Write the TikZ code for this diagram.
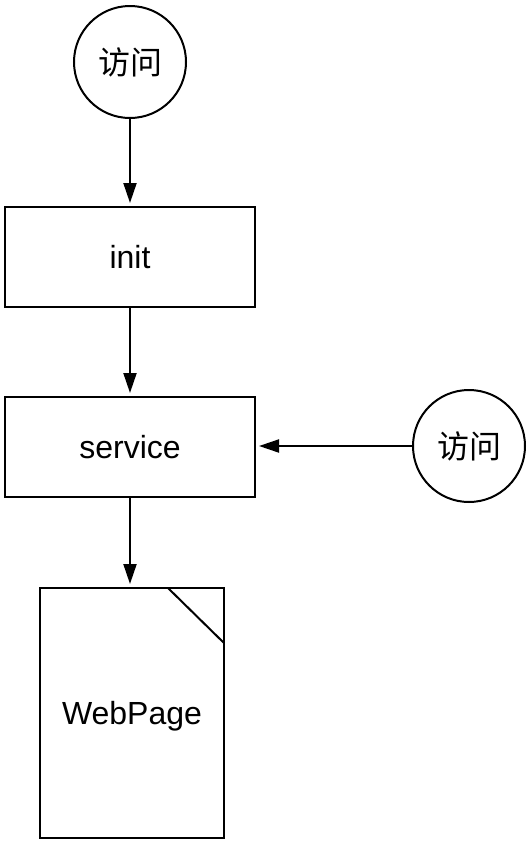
\documentclass[tikz,border=0pt]{standalone}
\usepackage{fontspec}
\setmainfont{Liberation Sans}
\newfontfamily\cjk{Noto Sans CJK SC}
\usetikzlibrary{arrows.meta}
\begin{document}
\begin{tikzpicture}[x=1pt,y=-1pt,
  every node/.style={font=\fontsize{32}{36}\selectfont},
  outl/.style={draw=black,line width=2pt},
  circ/.style={outl,circle,minimum size=112pt,inner sep=0pt,font=\fontsize{32}{36}\selectfont\cjk},
  boxn/.style={outl,rectangle,minimum width=250pt,minimum height=100pt,inner sep=0pt},
  conn/.style={line width=2pt,-{Triangle[length=20pt,width=13pt]},shorten >=3pt}]
\useasboundingbox (0,0) rectangle (529,844);
\node[circ] (v1) at (130,62) {访问};
\node[boxn] (init) at (130,257) {init};
\node[boxn] (svc) at (130,447) {service};
\node[circ] (v2) at (469,446) {访问};
\node[outl,rectangle,minimum width=184pt,minimum height=250pt,inner sep=0pt,text depth=0pt] (doc) at (132,713) {WebPage};
\coordinate (foldA) at (168,588);
\coordinate (foldB) at (224,643);
\draw[outl] (foldA) -- (foldB);
\draw[conn] (v1) -- (init);
\draw[conn] (init) -- (svc);
\draw[conn] (svc.south) -- (doc.north -| svc.south);
\draw[conn] (v2) -- (svc.east |- v2);
\end{tikzpicture}
\end{document}
